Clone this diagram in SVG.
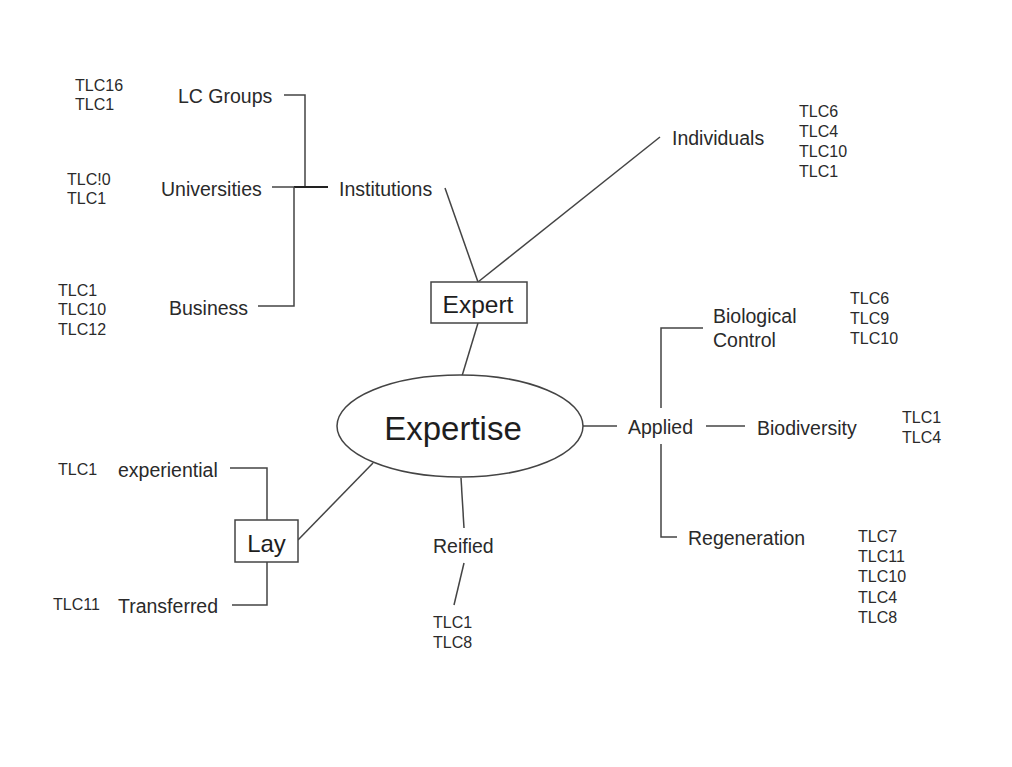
<svg xmlns="http://www.w3.org/2000/svg" width="1012" height="767" viewBox="0 0 1012 767">
  <style>
    .lbl { font-family: "Liberation Sans", Arial, sans-serif; font-size: 19.5px; fill: #2a2a2a; }
    .tlc { font-family: "Liberation Sans", Arial, sans-serif; font-size: 16px; fill: #2a2a2a; }
    .box { fill: #ffffff; stroke: #444; stroke-width: 1.5; }
    .big { font-family: "Liberation Sans", Arial, sans-serif; fill: #1e1e1e; }
    .conn line, .conn polyline { fill: none; stroke: #444; stroke-width: 1.5; }
  </style>
  <rect width="1012" height="767" fill="#ffffff"/>

  <!-- connectors -->
  <g class="conn" id="connectors">
    <!-- Institutions branch -->
    <polyline points="284,95 305,95 305,187"/>
    <line x1="272" y1="187" x2="296" y2="187"/>
    <line x1="294" y1="187" x2="328" y2="187" style="stroke:#222;stroke-width:2"/>
    <polyline points="258,306 294,306 294,187"/>
    <line x1="445" y1="188" x2="478" y2="282"/>
    <line x1="478" y1="282" x2="660" y2="137"/>
    <!-- Expert to centre -->
    <line x1="478" y1="323" x2="462" y2="376"/>
    <!-- Applied branch -->
    <line x1="583" y1="426" x2="617" y2="426"/>
    <line x1="706" y1="426" x2="745" y2="426"/>
    <polyline points="703,328 661,328 661,408"/>
    <polyline points="661,444 661,537 677,537"/>
    <!-- Lay branch -->
    <polyline points="230,468 267,468 267,520"/>
    <polyline points="267,562 267,605 232,605"/>
    <line x1="298" y1="540" x2="373" y2="463"/>
    <!-- Reified branch -->
    <line x1="461" y1="478" x2="464" y2="528"/>
    <line x1="464" y1="563" x2="454" y2="605"/>
  </g>

  <!-- central node -->
  <g id="expertise">
    <ellipse cx="460" cy="426" rx="123" ry="51" class="box"/>
    <text x="453" y="440" class="big" font-size="33" text-anchor="middle">Expertise</text>
  </g>

  <g id="expert">
    <rect x="431" y="282" width="96" height="41" class="box"/>
    <text x="478" y="313" class="big" font-size="24.5" text-anchor="middle">Expert</text>
  </g>

  <g id="lay">
    <rect x="235" y="520" width="63" height="42" class="box"/>
    <text x="266.5" y="552" class="big" font-size="24" text-anchor="middle">Lay</text>
  </g>

  <g id="institutions"><text x="339" y="196" class="lbl">Institutions</text></g>
  <g id="lc-groups">
    <text x="178" y="103" class="lbl">LC Groups</text>
    <text x="75" y="91" class="tlc">TLC16</text>
    <text x="75" y="110" class="tlc">TLC1</text>
  </g>
  <g id="universities">
    <text x="161" y="196" class="lbl">Universities</text>
    <text x="67" y="185" class="tlc">TLC!0</text>
    <text x="67" y="204" class="tlc">TLC1</text>
  </g>
  <g id="business">
    <text x="169" y="315" class="lbl">Business</text>
    <text x="58" y="296" class="tlc">TLC1</text>
    <text x="58" y="315" class="tlc">TLC10</text>
    <text x="58" y="335" class="tlc">TLC12</text>
  </g>
  <g id="individuals">
    <text x="672" y="145" class="lbl">Individuals</text>
    <text x="799" y="117" class="tlc">TLC6</text>
    <text x="799" y="137" class="tlc">TLC4</text>
    <text x="799" y="157" class="tlc">TLC10</text>
    <text x="799" y="177" class="tlc">TLC1</text>
  </g>

  <g id="applied"><text x="628" y="434" class="lbl">Applied</text></g>
  <g id="biological-control">
    <text x="713" y="323" class="lbl">Biological</text>
    <text x="713" y="347" class="lbl">Control</text>
    <text x="850" y="304" class="tlc">TLC6</text>
    <text x="850" y="324" class="tlc">TLC9</text>
    <text x="850" y="344" class="tlc">TLC10</text>
  </g>
  <g id="biodiversity">
    <text x="757" y="435" class="lbl">Biodiversity</text>
    <text x="902" y="423" class="tlc">TLC1</text>
    <text x="902" y="443" class="tlc">TLC4</text>
  </g>
  <g id="regeneration">
    <text x="688" y="545" class="lbl">Regeneration</text>
    <text x="858" y="542" class="tlc">TLC7</text>
    <text x="858" y="562" class="tlc">TLC11</text>
    <text x="858" y="582" class="tlc">TLC10</text>
    <text x="858" y="603" class="tlc">TLC4</text>
    <text x="858" y="623" class="tlc">TLC8</text>
  </g>

  <g id="experiential">
    <text x="118" y="477" class="lbl">experiential</text>
    <text x="58" y="475" class="tlc">TLC1</text>
  </g>
  <g id="transferred">
    <text x="118" y="613" class="lbl">Transferred</text>
    <text x="53" y="610" class="tlc">TLC11</text>
  </g>
  <g id="reified">
    <text x="433" y="553" class="lbl">Reified</text>
    <text x="433" y="628" class="tlc">TLC1</text>
    <text x="433" y="648" class="tlc">TLC8</text>
  </g>
</svg>
